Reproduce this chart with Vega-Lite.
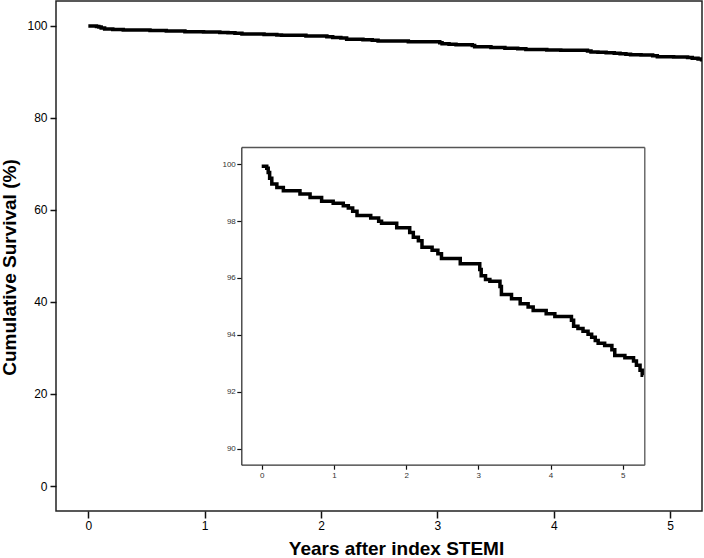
{
  "$schema": "https://vega.github.io/schema/vega-lite/v6.json",
  "width": 646,
  "height": 510,
  "autosize": {"type": "none"},
  "padding": {"left": 56, "top": 1, "right": 2, "bottom": 47},
  "background": "white",
  "config": {
    "font": "Liberation Sans",
    "view": {"stroke": "#222", "strokeWidth": 1.5},
    "axis": {"grid": false, "labelColor": "#000", "tickColor": "#111", "domainColor": "#333", "labelFont": "Liberation Sans", "titleFont": "Liberation Sans", "titleColor": "#000"}
  },
  "data": {
    "values": [
      {"t": 0.0, "v": 99.92},
      {"t": 0.07, "v": 99.85},
      {"t": 0.09, "v": 99.7},
      {"t": 0.11, "v": 99.5},
      {"t": 0.14, "v": 99.3},
      {"t": 0.21, "v": 99.18},
      {"t": 0.30, "v": 99.06},
      {"t": 0.53, "v": 98.95},
      {"t": 0.67, "v": 98.83},
      {"t": 0.83, "v": 98.69},
      {"t": 0.99, "v": 98.62},
      {"t": 1.13, "v": 98.54},
      {"t": 1.20, "v": 98.46},
      {"t": 1.26, "v": 98.34},
      {"t": 1.32, "v": 98.19},
      {"t": 1.51, "v": 98.11},
      {"t": 1.62, "v": 97.99},
      {"t": 1.66, "v": 97.92},
      {"t": 1.87, "v": 97.76},
      {"t": 2.05, "v": 97.60},
      {"t": 2.10, "v": 97.43},
      {"t": 2.17, "v": 97.31},
      {"t": 2.22, "v": 97.08},
      {"t": 2.36, "v": 96.97},
      {"t": 2.44, "v": 96.85},
      {"t": 2.49, "v": 96.68},
      {"t": 2.75, "v": 96.50},
      {"t": 3.02, "v": 96.30},
      {"t": 3.04, "v": 96.08},
      {"t": 3.10, "v": 95.95},
      {"t": 3.16, "v": 95.88},
      {"t": 3.30, "v": 95.70},
      {"t": 3.32, "v": 95.42},
      {"t": 3.46, "v": 95.27},
      {"t": 3.58, "v": 95.09},
      {"t": 3.69, "v": 94.98},
      {"t": 3.76, "v": 94.86},
      {"t": 3.94, "v": 94.74},
      {"t": 4.06, "v": 94.65},
      {"t": 4.29, "v": 94.51},
      {"t": 4.32, "v": 94.30},
      {"t": 4.38, "v": 94.22},
      {"t": 4.45, "v": 94.13},
      {"t": 4.52, "v": 94.02},
      {"t": 4.57, "v": 93.92},
      {"t": 4.62, "v": 93.80},
      {"t": 4.66, "v": 93.71},
      {"t": 4.75, "v": 93.63},
      {"t": 4.85, "v": 93.48},
      {"t": 4.89, "v": 93.28},
      {"t": 5.03, "v": 93.20},
      {"t": 5.15, "v": 93.08},
      {"t": 5.19, "v": 92.93},
      {"t": 5.24, "v": 92.76},
      {"t": 5.27, "v": 92.58},
      {"t": 5.285, "v": 92.58}
    ]
  },
  "layer": [
    {
      "mark": {"type": "line", "interpolate": "step-after", "color": "#000", "strokeWidth": 3.5, "clip": true},
      "encoding": {
        "x": {
          "field": "t", "type": "quantitative",
          "scale": {"domain": [-0.278, 5.274], "nice": false, "zero": false},
          "axis": {
            "orient": "bottom", "values": [0, 1, 2, 3, 4, 5], "domain": false,
            "tickSize": 7, "tickWidth": 1.5, "labelPadding": 2, "labelFontSize": 12,
            "title": "Years after index STEMI", "titleFontSize": 19, "titleFontWeight": "bold",
            "titleX": 340, "titleY": 37, "titleBaseline": "middle", "titleAlign": "center"
          }
        },
        "y": {
          "field": "v", "type": "quantitative",
          "scale": {"domain": [-5.43, 105.37], "nice": false, "zero": false},
          "axis": {
            "orient": "left", "values": [0, 20, 40, 60, 80, 100], "domain": false,
            "tickSize": 6, "tickWidth": 1.5, "labelPadding": 3, "labelFontSize": 12,
            "title": "Cumulative Survival (%)", "titleFontSize": 19, "titleFontWeight": "bold",
            "titleX": -47, "titleY": 266, "titleAngle": -90, "titleBaseline": "middle", "titleAlign": "center"
          }
        }
      }
    },
    {
      "layer": [
        {
          "mark": {"type": "line", "interpolate": "step-after", "color": "#000", "strokeWidth": 3.5, "clip": true},
          "encoding": {
            "x": {
              "field": "t", "type": "quantitative",
              "scale": {"domain": [-0.2825, 5.299], "nice": false, "zero": false, "range": [185.3, 588.3]},
              "axis": {
                "orient": "bottom", "offset": -46.3, "values": [0, 1, 2, 3, 4, 5],
                "domainWidth": 1.3, "domainColor": "#333", "tickSize": 4.5, "tickWidth": 1.2,
                "labelPadding": 2, "labelFontSize": 8, "labelColor": "#333", "title": null
              }
            },
            "y": {
              "field": "v", "type": "quantitative",
              "scale": {"domain": [89.44, 100.6], "nice": false, "zero": false, "range": [463.7, 146]},
              "axis": {
                "orient": "left", "offset": -185.3, "values": [90, 92, 94, 96, 98, 100],
                "domainWidth": 1.3, "domainColor": "#333", "tickSize": 4.5, "tickWidth": 1.2,
                "labelPadding": 1.5, "labelFontSize": 8, "labelColor": "#333", "title": null
              }
            }
          }
        },
        {
          "mark": {"type": "line", "opacity": 0},
          "encoding": {
            "x": {
              "field": "t", "type": "quantitative",
              "scale": {"domain": [-0.2825, 5.299], "nice": false, "zero": false, "range": [185.3, 588.3]},
              "axis": {"orient": "top", "offset": -146, "labels": false, "ticks": false, "domainWidth": 1.3, "domainColor": "#555", "title": null}
            },
            "y": {
              "field": "v", "type": "quantitative",
              "scale": {"domain": [89.44, 100.6], "nice": false, "zero": false, "range": [463.7, 146]},
              "axis": {"orient": "right", "offset": -57.7, "labels": false, "ticks": false, "domainWidth": 1.3, "domainColor": "#555", "title": null}
            }
          }
        }
      ],
      "resolve": {"axis": {"x": "independent", "y": "independent"}}
    }
  ],
  "resolve": {
    "scale": {"x": "independent", "y": "independent"},
    "axis": {"x": "independent", "y": "independent"}
  }
}
